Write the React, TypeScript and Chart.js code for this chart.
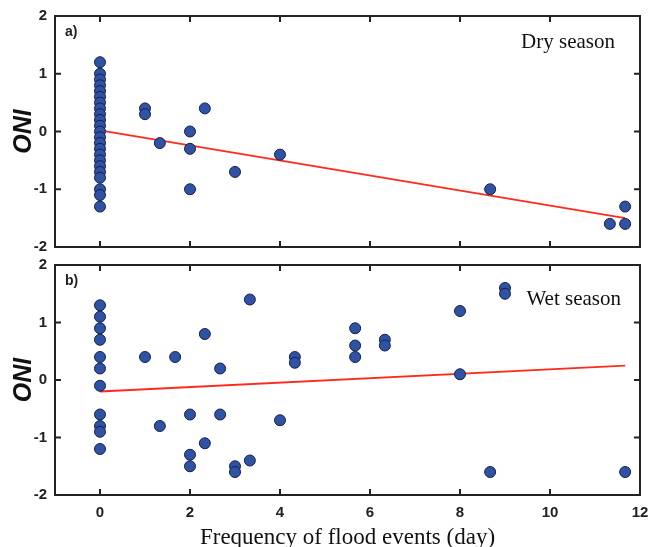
import React, { useEffect, useRef } from 'react';
import { Chart, registerables } from 'chart.js';
Chart.register(...registerables);

// ---- data ----
const xTicks = [0, 2, 4, 6, 8, 10, 12];
const yTicks = [-2, -1, 0, 1, 2];

const dryX = [0, 0, 0, 0, 0, 0, 0, 0, 0, 0, 0, 0, 0, 0, 0, 0, 0, 0, 0, 0, 0, 0, 0,
  1, 1, 1.33, 2, 2, 2, 2.33, 3, 4, 8.67, 11.33, 11.67, 11.67];
const dryY = [1.2, 1.0, 0.9, 0.8, 0.7, 0.6, 0.5, 0.4, 0.3, 0.2, 0.1, 0.0, -0.1, -0.2, -0.3, -0.4, -0.5, -0.6, -0.7, -0.8, -1.0, -1.1, -1.3,
  0.4, 0.3, -0.2, 0.0, -0.3, -1.0, 0.4, -0.7, -0.4, -1.0, -1.6, -1.3, -1.6];
const dryTrendX = [0, 11.67];
const dryTrendY = [0.02, -1.5];

const wetX = [0, 0, 0, 0, 0, 0, 0, 0, 0, 0, 0,
  1, 1.33, 1.67, 2, 2, 2, 2.33, 2.33, 2.67, 2.67, 3, 3, 3.33, 3.33, 4, 4.33, 4.33,
  5.67, 5.67, 5.67, 6.33, 6.33, 8, 8, 8.67, 9, 9, 11.67];
const wetY = [1.3, 1.1, 0.9, 0.7, 0.4, 0.2, -0.1, -0.6, -0.8, -0.9, -1.2,
  0.4, -0.8, 0.4, -0.6, -1.3, -1.5, 0.8, -1.1, 0.2, -0.6, -1.5, -1.6, 1.4, -1.4, -0.7, 0.4, 0.3,
  0.9, 0.6, 0.4, 0.7, 0.6, 1.2, 0.1, -1.6, 1.6, 1.5, -1.6];
const wetTrendX = [0, 11.67];
const wetTrendY = [-0.2, 0.25];

const xTitle = 'Frequency of flood events (day)';
const yTitle = 'ONI';

const SANS = '"Liberation Sans", Arial, sans-serif';
const SERIF = '"Liberation Serif", "Times New Roman", serif';

const framePlugin = {
  id: 'frame',
  afterDraw(chart: any, _args: any, opts: any) {
    const { ctx, chartArea: a, scales } = chart;
    ctx.save();
    ctx.strokeStyle = '#222';
    ctx.lineWidth = 2;
    const L = 6;
    const ln = (x1: number, y1: number, x2: number, y2: number) => {
      ctx.beginPath(); ctx.moveTo(x1, y1); ctx.lineTo(x2, y2); ctx.stroke();
    };
    xTicks.forEach((v) => {
      const px = scales.x.getPixelForValue(v);
      if (px <= a.left + 2 || px >= a.right - 2) return;
      ln(px, a.top, px, a.top + L);
      ln(px, a.bottom, px, a.bottom - L);
    });
    yTicks.forEach((v) => {
      const py = scales.y.getPixelForValue(v);
      if (py <= a.top + 2 || py >= a.bottom - 2) return;
      ln(a.left, py, a.left + L, py);
      ln(a.right, py, a.right - L, py);
    });
    ctx.lineWidth = 2;
    ctx.strokeRect(a.left, a.top, a.right - a.left, a.bottom - a.top);
    ctx.fillStyle = '#222';
    ctx.textBaseline = 'middle';
    ctx.textAlign = 'left';
    ctx.font = `bold 14px ${SANS}`;
    ctx.fillText(opts.tag, a.left + 10, a.top + 16);
    ctx.font = `21px ${SERIF}`;
    ctx.textAlign = 'right';
    ctx.fillStyle = '#111';
    ctx.fillText(opts.season, a.right - opts.seasonRight, a.top + opts.seasonDy);
    ctx.restore();
  },
};

function makeConfig(xs: number[], ys: number[], tx: number[], ty: number[], showX: boolean, xh: number, padTop: number, tag: string, season: string, seasonRight: number, seasonDy: number) {
  const pts = xs.map((x, i) => ({ x, y: ys[i] }));
  const trend = tx.map((x, i) => ({ x, y: ty[i] }));
  return {
    type: 'scatter',
    data: {
      datasets: [
        {
          data: pts,
          backgroundColor: '#2f52a3',
          borderColor: '#17204f',
          borderWidth: 1,
          pointRadius: 5.5,
          pointHoverRadius: 5.5,
        },
        {
          type: 'line',
          data: trend,
          showLine: true,
          borderColor: '#ff2a1a',
          borderWidth: 1.8,
          pointRadius: 0,
          fill: false,
        },
      ],
    },
    options: {
      animation: false,
      responsive: false,
      events: [],
      layout: { padding: { top: padTop, right: 8, left: 0, bottom: 0 } },
      plugins: {
        legend: { display: false },
        tooltip: { enabled: false },
        frame: { tag, season, seasonRight, seasonDy },
      },
      scales: {
        x: {
          type: 'linear',
          min: -1,
          max: 12,
          afterBuildTicks: (s: any) => { s.ticks = xTicks.map((v) => ({ value: v })); },
          afterFit: (s: any) => { s.height = xh; s.paddingLeft = 0; s.paddingRight = 0; },
          grid: { display: false, drawTicks: false },
          border: { display: false },
          ticks: {
            display: showX,
            autoSkip: false,
            maxRotation: 0,
            padding: 9,
            color: '#222',
            font: { family: SANS, size: 15, weight: 'bold' },
          },
          title: {
            display: showX,
            text: xTitle,
            color: '#111',
            font: { family: SERIF, size: 23, lineHeight: 0.8 },
            padding: { top: 0, bottom: 0 },
          },
        },
        y: {
          type: 'linear',
          min: -2,
          max: 2,
          afterBuildTicks: (s: any) => { s.ticks = yTicks.map((v) => ({ value: v })); },
          afterFit: (s: any) => { s.width = 55; s.paddingTop = 0; s.paddingBottom = 0; },
          grid: { display: false, drawTicks: false },
          border: { display: false },
          ticks: {
            padding: 8,
            color: '#222',
            font: { family: SANS, size: 15, weight: 'bold' },
          },
          title: {
            display: true,
            text: yTitle,
            color: '#111',
            font: { family: SANS, size: 25, weight: 'bold', style: 'italic', lineHeight: 1 },
            padding: { top: 12, bottom: 0 },
          },
        },
      },
    },
    plugins: [framePlugin],
  } as any;
}

export default function App() {
  const topRef = useRef<HTMLCanvasElement>(null);
  const botRef = useRef<HTMLCanvasElement>(null);
  useEffect(() => {
    const c1 = new Chart(topRef.current!, makeConfig(dryX, dryY, dryTrendX, dryTrendY, false, 9, 16, 'a)', 'Dry season', 25, 26));
    const c2 = new Chart(botRef.current!, makeConfig(wetX, wetY, wetTrendX, wetTrendY, true, 52, 9, 'b)', 'Wet season', 19, 34));
    return () => { c1.destroy(); c2.destroy(); };
  }, []);
  return (
    <div style={{ position: 'absolute', left: 0, top: 0, width: 648, height: 547, background: '#fff' }}>
      <canvas ref={topRef} width={648} height={256} style={{ position: 'absolute', left: 0, top: 0, display: 'block' }} />
      <canvas ref={botRef} width={648} height={291} style={{ position: 'absolute', left: 0, top: 256, display: 'block' }} />
    </div>
  );
}
